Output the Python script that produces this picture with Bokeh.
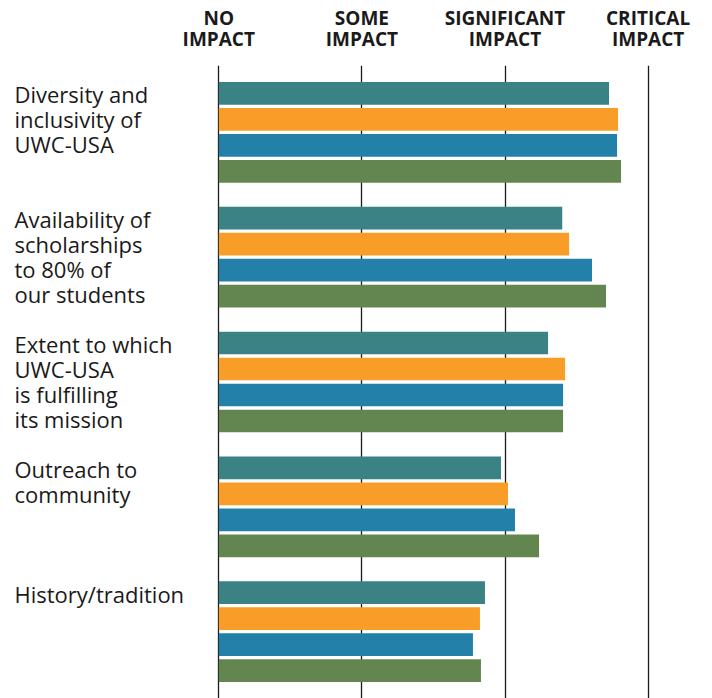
from bokeh.plotting import figure
from bokeh.models import FactorRange, Range1d, FixedTicker, ColumnDataSource
from bokeh.core.properties import value
from bokeh.embed import file_html
from bokeh.resources import INLINE

categories = [
    "Diversity and inclusivity of UWC-USA",
    "Availability of scholarships to 80% of our students",
    "Extent to which UWC-USA is fulfilling its mission",
    "Outreach to community",
    "History/tradition",
]
category_labels = [
    "Diversity and\ninclusivity of\nUWC-USA",
    "Availability of\nscholarships\nto 80% of\nour students",
    "Extent to which\nUWC-USA\nis fulfilling\nits mission",
    "Outreach to\ncommunity",
    "History/tradition",
]
series = ["Group 1", "Group 2", "Group 3", "Group 4"]
series_1 = [2.727, 2.400, 2.301, 1.972, 1.860]
series_2 = [2.790, 2.448, 2.420, 2.021, 1.825]
series_3 = [2.783, 2.608, 2.406, 2.070, 1.776]
series_4 = [2.811, 2.706, 2.406, 2.238, 1.832]
colors = ["#3a8284", "#f99d29", "#2380a9", "#638651"]
tick_values = [0, 1, 2, 3]
tick_labels = ["NO\nIMPACT", "SOME\nIMPACT", "SIGNIFICANT\nIMPACT", "CRITICAL\nIMPACT"]

all_values = [series_1, series_2, series_3, series_4]

factors = [(c, s) for c in categories for s in series]
y_range = FactorRange(*list(reversed(factors)), factor_padding=0.0, group_padding=0.8,
                      range_padding=0.573, range_padding_units="absolute")

x0_px = 218.3
unit_px = 143.1
W, H = 712, 698
x_range = Range1d(-x0_px / unit_px, (W - x0_px) / unit_px)

p = figure(width=W, height=H, x_range=x_range, y_range=y_range,
           output_backend="svg", toolbar_location=None,
           x_axis_location="above", y_axis_location=None,
           min_border_left=0, min_border_right=0, min_border_top=65, min_border_bottom=0)
p.outline_line_color = None
p.background_fill_color = "white"
p.border_fill_color = "white"

ys, rights, cols = [], [], []
for ci, c in enumerate(categories):
    for si, s in enumerate(series):
        ys.append((c, s))
        rights.append(all_values[si][ci])
        cols.append(colors[si])
src = ColumnDataSource(dict(y=ys, right=rights, color=cols))
p.hbar(y="y", left=0, right="right", height=0.873, fill_color="color",
       line_color=None, source=src)

# grid
p.xgrid.ticker = FixedTicker(ticks=tick_values)
p.xgrid.grid_line_color = "#1a1a1a"
p.xgrid.grid_line_width = 1.3
p.xgrid.level = "underlay"
p.ygrid.grid_line_color = None

ax = p.xaxis[0]
ax.ticker = FixedTicker(ticks=tick_values)
ax.major_label_overrides = {v: t for v, t in zip(tick_values, tick_labels)}
ax.axis_line_color = None
ax.major_tick_line_color = None
ax.minor_tick_line_color = None
ax.major_tick_in = 0
ax.major_tick_out = 0
ax.major_label_standoff = 14
ax.major_label_text_font = "Open Sans"
ax.major_label_text_font_style = "bold"
ax.major_label_text_font_size = "19px"
ax.major_label_text_color = "#1a1a1a"
ax.major_label_text_line_height = 0.78
ax.major_label_text_align = "center"

# category labels
lab_src = ColumnDataSource(dict(
    x=[x_range.start + 14 / unit_px] * len(categories),
    y=[(c, series[0]) for c in categories],
    text=category_labels,
))
p.text(x="x", y="y", text="text", source=lab_src, text_font=value("Open Sans"),
       text_font_size="22px", text_color="#1a1a1a", text_baseline="top",
       text_align="left", text_line_height=0.83, y_offset=-14)

open("out.html", "w").write(file_html(p, INLINE))
